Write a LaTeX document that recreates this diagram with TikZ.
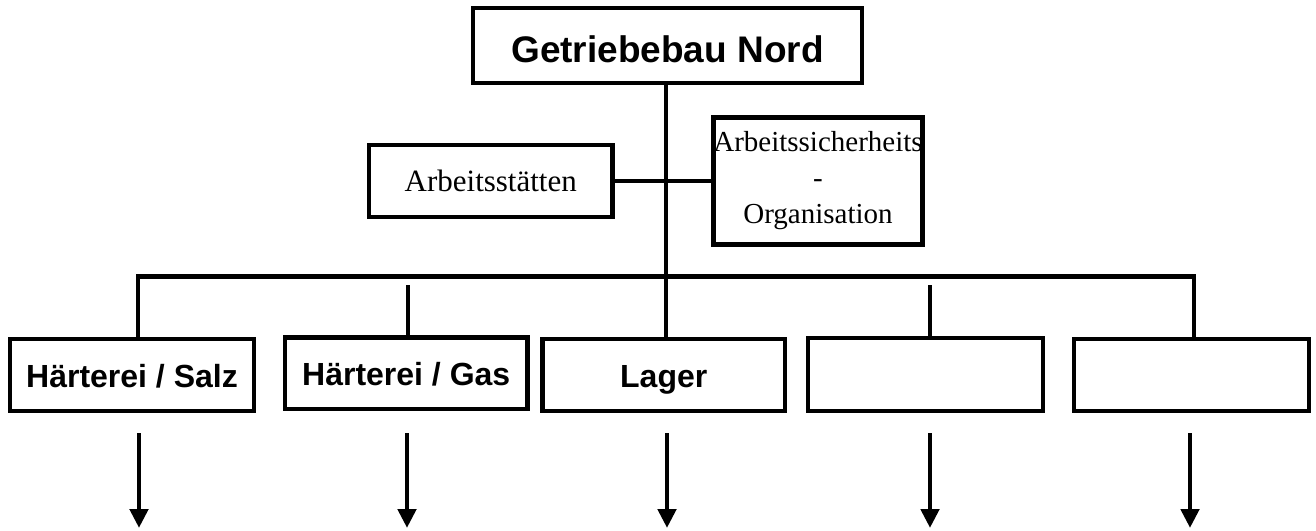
\documentclass[tikz,border=0pt]{standalone}
\usepackage{fontspec}
\setmainfont{Liberation Serif}
\newfontfamily\arialfont{Liberation Sans}
\usetikzlibrary{arrows.meta}
\tikzset{
  ln/.style={line width=4.8pt, line cap=butt, line join=miter},
  boxbase/.style={draw, ln, rectangle, inner sep=0pt, outer sep=0pt, fill=white},
  sansbox/.style={boxbase, font=\arialfont\bfseries\fontsize{32}{36}\selectfont,
    text height=24pt, text depth=0pt},
  serifbox/.style={boxbase, font=\fontsize{31}{36}\selectfont},
  downarrow/.style={ln, -{Triangle[width=18pt,length=19pt]}},
}
\begin{document}
\begin{tikzpicture}[x=1pt,y=-1pt]
\useasboundingbox (0,0) rectangle (1316,530);
\fill[white] (0,0) rectangle (1316,530);

% coordinates of the junctions
\coordinate (m)  at (666,0);
\coordinate (j1) at (138,276.5);
\coordinate (j2) at (408,285);
\coordinate (j3) at (666,276.5);
\coordinate (j4) at (930,285);
\coordinate (j5) at (1194,276.5);

\node[sansbox, minimum width=389pt, minimum height=75pt, font=\arialfont\bfseries\fontsize{37}{40}\selectfont, text height=33pt, text depth=0pt] (top) at (667.5,45.5) {Getriebebau Nord};
\node[serifbox, minimum width=243.5pt, minimum height=72pt] (as) at (490.75,181) {Arbeitsstätten};
\node[serifbox, minimum width=206pt, minimum height=127.5pt, align=center, font=\fontsize{29}{36}\selectfont] (asi) at (818,181) {Arbeitssicherheits\\-\\Organisation};

\node[sansbox, minimum width=244pt, minimum height=72pt] (b1) at (132,375) {Härterei / Salz};
\node[sansbox, minimum width=242.5pt, minimum height=71.5pt] (b2) at (406.25,373.25) {Härterei / Gas};
\node[sansbox, minimum width=242.5pt, minimum height=72pt] (b3) at (663.75,375) {Lager};
\node[sansbox, minimum width=235pt, minimum height=73pt] (b4) at (925.5,374.5) {};
\node[sansbox, minimum width=235pt, minimum height=72pt] (b5) at (1191.5,375) {};

% connectors
\draw[ln] (top.south -| m) -- (b3.north -| m);
\draw[ln] (as.east) -- (asi.west |- as.east);
\draw[ln] (b1.north -| j1) -- (j1) -- (j5) -- (b5.north -| j5);
\draw[ln] (j2) -- (b2.north -| j2);
\draw[ln] (j4) -- (b4.north -| j4);

% arrows below the boxes
\coordinate (a1s) at (139,433);  \coordinate (a1e) at (139,528);
\coordinate (a2s) at (407,433);  \coordinate (a2e) at (407,528);
\coordinate (a3s) at (667,433);  \coordinate (a3e) at (667,528);
\coordinate (a4s) at (930,433);  \coordinate (a4e) at (930,528);
\coordinate (a5s) at (1190,433); \coordinate (a5e) at (1190,528);
\draw[downarrow] (a1s) -- (a1e);
\draw[downarrow] (a2s) -- (a2e);
\draw[downarrow] (a3s) -- (a3e);
\draw[downarrow] (a4s) -- (a4e);
\draw[downarrow] (a5s) -- (a5e);
\end{tikzpicture}
\end{document}
